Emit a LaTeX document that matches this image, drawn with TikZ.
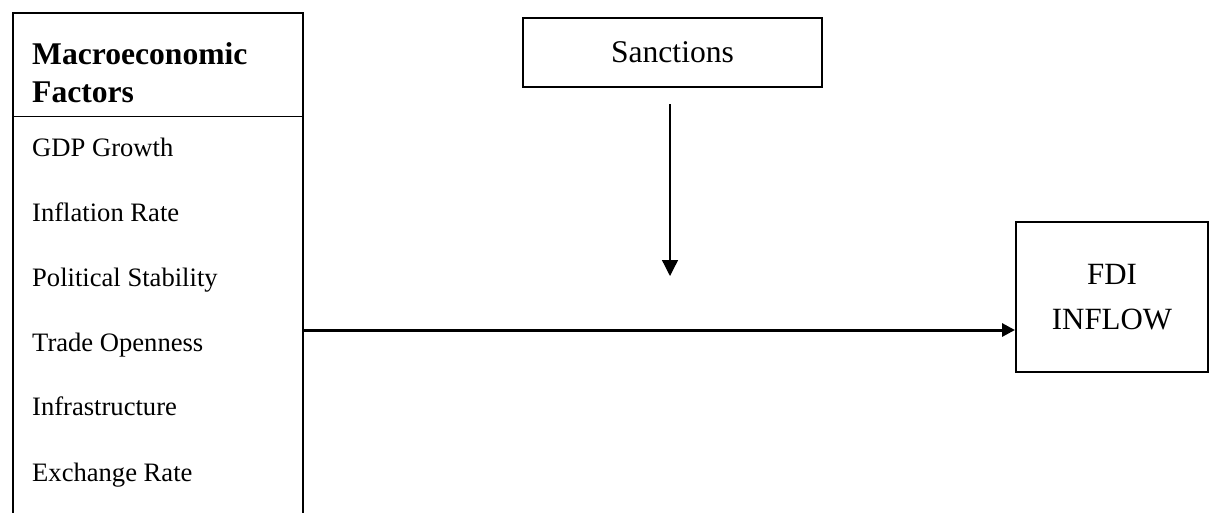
\documentclass[tikz,border=0pt]{standalone}
\usepackage{fontspec}
\setmainfont{Liberation Serif}
\usetikzlibrary{arrows.meta}
\tikzset{
  boxed/.style={draw, line width=2pt, rectangle, inner sep=0pt},
  headtext/.style={font=\fontsize{31.6}{38}\selectfont, inner sep=0pt},
  headbold/.style={font=\bfseries\fontsize{31.6}{38}\selectfont, inner sep=0pt, anchor=base west},
  itemtext/.style={font=\fontsize{26.6}{32}\selectfont, inner sep=0pt, anchor=base west},
  mainarrow/.style={line width=3pt, -{Triangle[length=13pt,width=13pt]}},
  modarrow/.style={line width=1.3pt, -{Triangle[length=16pt,width=16pt]}}
}
\begin{document}
\begin{tikzpicture}[x=1pt,y=-1pt]
\useasboundingbox (0,0) rectangle (1212,512);
\clip (0,0) rectangle (1212,512);
\fill[white] (0,0) rectangle (1212,512);
% left box (extends below the page)
\node[boxed, anchor=north west, minimum width=290pt, minimum height=540pt] (macro) at (12,12) {};
\draw[line width=1pt] (12,116) coordinate (divl) -- (302,116) coordinate (divr);
\node[headbold] (h1) at (32,64) {Macroeconomic};
\node[headbold] (h2) at (32,102) {Factors};
\node[itemtext] (i1) at (32,156) {GDP Growth};
\node[itemtext] (i2) at (32,221) {Inflation Rate};
\node[itemtext] (i3) at (32,286) {Political Stability};
\node[itemtext] (i4) at (32,351) {Trade Openness};
\node[itemtext] (i5) at (32,415) {Infrastructure};
\node[itemtext] (i6) at (32,481) {Exchange Rate};
% sanctions
\node[boxed, line width=2.3pt, minimum width=299pt, minimum height=69pt, headtext] (sanc) at (672.5,52.5) {Sanctions};
% FDI
\node[boxed, minimum width=192pt, minimum height=150pt, align=center, font=\fontsize{30.9}{45}\selectfont] (fdi) at (1112,297) {FDI\\INFLOW};
% arrows
\coordinate (mod) at (670,276);
\draw[modarrow] ([yshift=-16pt]sanc.south -| mod) -- (mod);
\draw[mainarrow] (macro.east |- 0,330) -- (fdi.west |- 0,330);
\end{tikzpicture}
\end{document}
